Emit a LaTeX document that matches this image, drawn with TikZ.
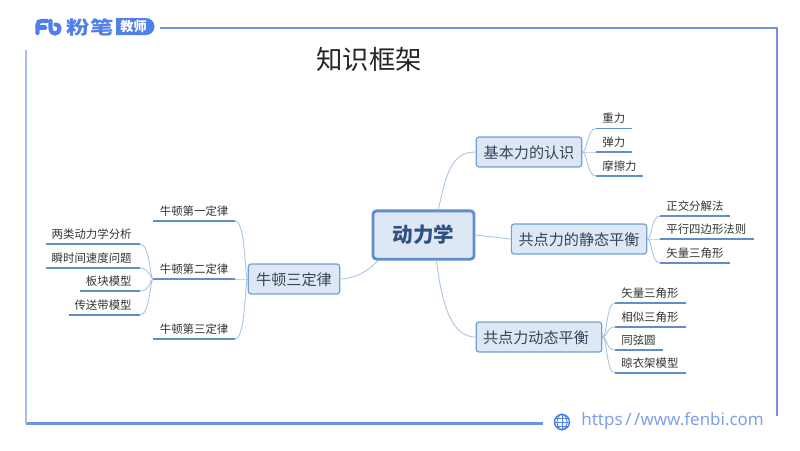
\documentclass[tikz,border=0pt]{standalone}
\usepackage{graphicx}
\usepackage{fontspec}
\setmainfont{Noto Sans CJK SC}
\setsansfont{Noto Sans}
\usetikzlibrary{calc}
\definecolor{framecol}{HTML}{6F93E4}
\definecolor{leftcol}{HTML}{A9BDE6}
\definecolor{boxfill}{HTML}{DEE8F5}
\definecolor{boxline}{HTML}{6F9FD8}
\definecolor{rootline}{HTML}{5B8FCF}
\definecolor{wirecol}{HTML}{A9C3E2}
\definecolor{leafline}{HTML}{5F8FCB}
\definecolor{inkcol}{HTML}{33445A}
\definecolor{rootink}{HTML}{2F5080}
\definecolor{logocol}{HTML}{4F7FE8}
\definecolor{sitecol}{HTML}{7F9FE6}
\tikzset{
	rootbox/.style={draw=rootline, line width=1.6pt, fill=boxfill, rounded corners=2pt, minimum width=57.5pt, minimum height=27.5pt, inner sep=0pt, text height=8.8pt, text depth=0pt, font=\fontsize{11.7}{12}\selectfont\bfseries, text=rootink},
	topicbox/.style={draw=boxline, line width=0.7pt, fill=boxfill, rounded corners=1.5pt, minimum height=17pt, inner sep=0pt, text height=7pt, text depth=0pt, font=\fontsize{8.6}{10}\selectfont, text=inkcol},
	leaf/.style={inner sep=0pt, anchor=base west, font=\fontsize{6.5}{8}\selectfont, text=black!80},
	leafrule/.style={draw=leafline, line width=0.7pt},
	wire/.style={draw=wirecol, line width=0.5pt},
	logopen/.style={draw=logocol, line width=2.4pt, line cap=round},
}
\begin{document}
\begin{tikzpicture}[x=0.02cm, y=-0.02cm]
	\useasboundingbox (0, 0) rectangle (800, 450);

	%%%%% FRAME %%%%%
	\draw[framecol, line width=1.2pt] (160, 28) -- (777, 28) -- (777, 415.5);
	\draw[framecol, line width=1.2pt] (543, 423.5) -- (26, 423.5);
	\draw[leftcol, line width=1.2pt] (26, 423.5) -- (26, 50);

	%%%%% LOGO %%%%%
	\draw[logopen] (37.5, 33) -- (37.5, 25) .. controls (37.5, 22) and (39, 21) .. (42, 21) -- (47, 21);
	\draw[logopen] (37.5, 27.5) -- (45, 27.5);
	\draw[logopen] (50.5, 21) -- (50.5, 28) .. controls (50.5, 32) and (53, 33.5) .. (55, 33.5) .. controls (58, 33.5) and (59.5, 31) .. (59.5, 28.5) .. controls (59.5, 26) and (58, 24.5) .. (55.5, 24.5);
	\node[text=logocol, font=\fontsize{10.4}{12}\selectfont\bfseries, inner sep=0pt] (logoname) at (90, 27) {\scalebox{1.28}[1]{粉笔}};
	\fill[logocol] (116, 18) -- (146, 18) arc (-90:90:8.5) -- (116, 35) -- cycle;
	\node[text=white, font=\fontsize{7.5}{8}\selectfont\bfseries, inner sep=0pt] (logotag) at (133.5, 26.5) {教师};

	\node[text=black!85, font=\fontsize{15}{16}\selectfont, inner sep=0pt, text height=11.2pt, text depth=0pt] (title) at (369, 60) {知识框架};

	%%%%% CENTRE %%%%%
	\node[rootbox] (dyn) at (423.5, 235) {动力学};

	\node[topicbox, minimum width=60pt] (basic) at (529, 152) {基本力的认识};
	\node[topicbox, minimum width=77pt] (still) at (579, 239) {共点力的静态平衡};
	\node[topicbox, minimum width=71.5pt] (moving) at (539, 337) {共点力动态平衡\kern3.4pt};
	\node[topicbox, minimum width=52pt] (newton) at (294, 279) {牛顿三定律};

	\coordinate (dynup) at ($(dyn.north)+(15, 0)$);
	\coordinate (dyndown) at ($(dyn.south)+(13, 0)$);
	\coordinate (dynleft) at ($(dyn.south west)+(6, 0)$);
	\draw[wire] (dynup) .. controls +(8, -40) and +(-22, 0) .. (basic.west);
	\draw[wire] (dyn.east) -- (still.west);
	\draw[wire] (dyndown) .. controls +(6, 50) and +(-22, 0) .. (moving.west);
	\draw[wire] (dynleft) .. controls +(-8, 10) and +(14, 0) .. (newton.east);

	%%%%% RIGHT LEAVES %%%%%
	\foreach \leafname/\leafx/\leafy/\leafend/\leaftext/\leafroot in {
		gravity/596/128.6/632/重力/basic,
		elastic/596/152/632/弹力/basic,
		friction/596/176/643/摩擦力/basic,
		ortho/660/216/730/正交分解法/still,
		para/660/239/754/平行四边形法则/still,
		tri/660/263/730/矢量三角形/still,
		vector/615/303/686/矢量三角形/moving,
		similar/615/327/686/相似三角形/moving,
		chord/615/350/663/同弦圆/moving,
		hanger/615/373/686/晾衣架模型/moving}{
		\node[leaf] (\leafname) at (\leafx+6, \leafy-6) {\leaftext};
		\coordinate (\leafname r) at (\leafend, \leafy);
		\coordinate (\leafname l) at (\leafx, \leafy);
		\draw[leafrule] (\leafname l) -- (\leafname r);
		\draw[wire] (\leafroot.east) .. controls +(5, 0) and ($(\leafname l)+(-9, 0)$) .. (\leafname l);
	}

	%%%%% LEFT LEAVES %%%%%
	\foreach \leafname/\leafy/\leaftext in {
		first/221/牛顿第一定律,
		second/279/牛顿第二定律,
		third/339/牛顿第三定律}{
		\node[leaf] (\leafname) at (159.5, \leafy-6) {\leaftext};
		\coordinate (\leafname r) at (235, \leafy);
		\coordinate (\leafname l) at (153, \leafy);
		\draw[leafrule] (\leafname l) -- (\leafname r);
		\draw[wire] (newton.west) .. controls +(-3, 0) and ($(\leafname r)+(11, 0)$) .. (\leafname r);
	}
	\foreach \leafname/\leafx/\leafy/\leaftext in {
		analysis/46/244/两类动力学分析,
		instant/46/268/瞬时间速度问题,
		plank/80/291/板块模型,
		belt/69/315/传送带模型}{
		\node[leaf, anchor=base east] (\leafname) at (132, \leafy-6) {\leaftext};
		\coordinate (\leafname r) at (140, \leafy);
		\coordinate (\leafname l) at (\leafx, \leafy);
		\draw[leafrule] (\leafname l) -- (\leafname r);
		\draw[wire] (secondl) .. controls +(-3, 0) and ($(\leafname r)+(10, 0)$) .. (\leafname r);
	}

	%%%%% FOOTER %%%%%
	\node[circle, draw=logocol, line width=0.8pt, minimum size=8.6pt, inner sep=0pt] (globe) at (562, 422) {};
	\draw[logocol, line width=0.5pt] (globe.west) -- (globe.east);
	\draw[logocol, line width=0.5pt] (globe.north) -- (globe.south);
	\draw[logocol, line width=0.5pt] (globe.north) .. controls +(-7, 4) and +(-7, -4) .. (globe.south);
	\draw[logocol, line width=0.5pt] (globe.north) .. controls +(7, 4) and +(7, -4) .. (globe.south);
	\draw[logocol, line width=0.5pt] (556, 418) -- (568, 418);
	\draw[logocol, line width=0.5pt] (556, 426) -- (568, 426);
	\node[anchor=west, text=sitecol, font=\fontsize{9.65}{11}\selectfont\sffamily, inner sep=0pt] (site) at (581, 421) {https\kern1.5pt/\kern1.5pt/www.fenbi.com};
\end{tikzpicture}
\end{document}
